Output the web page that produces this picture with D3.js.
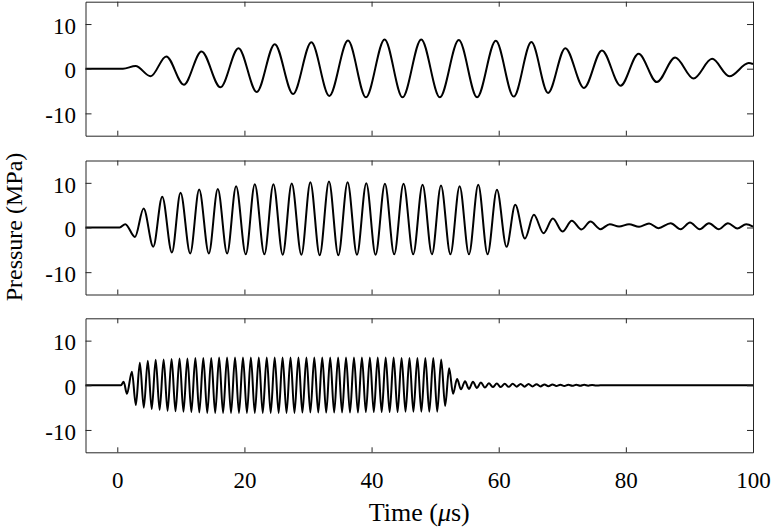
<!DOCTYPE html>
<html>
<head>
<meta charset="utf-8">
<script src="https://cdn.jsdelivr.net/npm/d3@7"></script>
<style>
  body { margin: 0; background: #fff; }
  svg { display: block; font-family: "Liberation Serif", "Times New Roman", serif; }
</style>
</head>
<body>
<script>

// tick values
var timeTicks = [0, 20, 40, 60, 80, 100];
var pressureTicks = [-10, 0, 10];

// panel 1 - peaks and troughs (time in us, pressure in MPa)
var p1Time = [-5, 0.89, 2.88, 5.24, 7.70, 10.47, 13.25, 16.23, 19.06, 21.94, 24.77, 27.65, 30.53,
  33.35, 36.29, 39.11, 42.05, 44.87, 47.81, 50.74, 53.72, 56.60, 59.54, 62.36, 65.14, 67.76,
  70.48, 73.41, 76.24, 79.17, 82.00, 84.88, 87.76, 90.64, 93.57, 96.29, 99.33, 100];
var p1Pressure = [0, 0, 0.6, -1.7, 2.75, -3.57, 3.87, -4.17, 4.6, -5.2, 5.5, -5.65, 5.9,
  -6.1, 6.3, -6.4, 6.55, -6.4, 6.55, -6.4, 6.4, -6.4, 6.25, -6.25, 5.95, -5.43,
  4.6, -4.3, 4.1, -3.8, 3.35, -3.0, 2.5, -2.2, 2.2, -1.7, 1.25, 1.05];

// panel 2
var p2Time = [-5, 0.37, 1.26, 2.78, 4.14, 5.66, 7.07, 8.59, 9.95, 11.47, 12.88, 14.40, 15.81,
  17.28, 18.69, 20.21, 21.63, 23.14, 24.56, 26.02, 27.44, 28.96, 30.37, 31.84, 33.30, 34.77,
  36.23, 37.70, 39.17, 40.63, 42.10, 43.56, 45.03, 46.55, 48.02, 49.50, 50.92, 52.40, 53.85,
  55.32, 56.78, 58.25, 59.72, 61.23, 62.60, 64.12, 65.53, 67.05, 68.51, 70.03, 71.50, 73.02,
  74.43, 76.00, 77.47, 78.93, 80.50, 82.07, 83.65, 85.11, 87.05, 88.62, 90.09, 91.61, 93.07,
  94.64, 96.06, 97.52, 98.93, 100];
var p2Pressure = [0, 0, 0.75, -2.1, 4.25, -4.3, 6.9, -5.6, 7.8, -5.8, 8.5, -5.8, 8.6,
  -5.8, 9.25, -6.0, 9.7, -6.0, 9.7, -6.1, 9.85, -6.1, 10.15, -6.2, 10.3, -6.2,
  10.15, -6.1, 9.9, -6.1, 9.8, -6.0, 9.8, -6.0, 9.55, -6.0, 9.4, -6.0, 9.25,
  -6.0, 9.55, -6.0, 8.43, -4.33, 5.07, -2.46, 2.84, -1.27, 2.01, -0.9, 1.49, -0.45,
  1.34, -0.37, 0.75, 0.22, 0.75, 0.15, 0.9, -0.15, 0.97, -0.37, 1.12, -0.37, 0.97,
  -0.37, 0.97, -0.22, 0.75, 0.22];

// panel 3
var p3Time = [-5, 0.58, 1.00, 1.52, 2.30, 2.92, 3.55, 4.17, 4.80, 5.42, 6.04, 6.66, 7.29, 7.91,
  8.54, 9.16, 9.79, 10.41, 11.03, 11.65, 12.28, 12.90, 13.53, 14.15, 14.78, 15.40, 16.02, 16.64,
  17.27, 17.89, 18.52, 19.14, 19.77, 20.39, 21.01, 21.63, 22.26, 22.88, 23.51, 24.13, 24.76,
  25.38, 26.00, 26.62, 27.25, 27.87, 28.50, 29.12, 29.75, 30.37, 30.99, 31.61, 32.24, 32.86,
  33.49, 34.11, 34.74, 35.36, 35.98, 36.60, 37.23, 37.85, 38.48, 39.10, 39.73, 40.35, 40.97,
  41.59, 42.22, 42.84, 43.47, 44.09, 44.72, 45.34, 45.96, 46.58, 47.21, 47.83, 48.46, 49.08,
  49.71, 50.33, 50.95, 51.57, 52.20, 52.82, 53.45, 54.07, 54.70, 55.32, 55.95, 56.57, 57.20,
  57.82, 58.45, 59.07, 59.70, 60.32, 60.95, 61.57, 62.20, 62.82, 63.45, 64.07, 64.70, 65.32,
  65.95, 66.57, 67.20, 67.82, 68.45, 69.07, 69.70, 70.32, 70.95, 71.57, 72.20, 72.82, 73.45,
  74.07, 74.70, 75.32, 76.0, 100];
var p3Pressure = [0, 0, 0.8, -1.9, 3.05, -4.4, 5.05, -5.0, 5.5, -5.3, 5.7, -5.5, 5.8, -5.7,
  5.9, -5.8, 6.0, -5.9, 6.0, -6.0, 6.1, -6.1, 6.1, -6.2, 6.1, -6.2, 6.2, -6.2,
  6.2, -6.2, 6.2, -6.2, 6.2, -6.2, 6.2, -6.2, 6.2, -6.2, 6.2, -6.2, 6.2,
  -6.2, 6.2, -6.2, 6.2, -6.2, 6.2, -6.1, 6.2, -6.1, 6.2, -6.1, 6.2, -6.1,
  6.2, -6.1, 6.2, -6.1, 6.2, -6.1, 6.2, -6.1, 6.2, -6.0, 6.2, -6.0, 6.2,
  -6.0, 6.2, -6.0, 6.2, -6.0, 6.1, -5.9, 6.1, -5.9, 6.1, -5.9, 6.1, -5.9,
  6.1, -5.9, 5.8, -4.6, 3.8, -1.9, 1.4, -0.9, 0.9, -0.8, 0.8, -0.6, 0.6,
  -0.5, 0.45, -0.4, 0.4, -0.4, 0.35, -0.35, 0.35, -0.3, 0.3, -0.3, 0.3, -0.25,
  0.25, -0.25, 0.2, -0.2, 0.2, -0.15, 0.15, -0.15, 0.12, -0.12, 0.1, -0.1, 0.1,
  -0.08, 0.08, -0.06, 0, 0];

var panels = [
  { time: p1Time, pressure: p1Pressure },
  { time: p2Time, pressure: p2Pressure },
  { time: p3Time, pressure: p3Pressure }
];

var svgWidth = 772;
var svgHeight = 529;

var plotLeft = 85.5;
var plotRight = 753;
var panelTops = [1.7, 160.5, 318.3];
var panelHeight = 134;

var axisColor = "#262626";
var serif = "Liberation Serif, Times New Roman, serif";

var svg = d3.select("body")
  .append("svg")
  .attr("width", svgWidth)
  .attr("height", svgHeight);

var xScale = d3.scaleLinear()
  .domain([-5, 100])
  .range([plotLeft, plotRight]);

var line = d3.line()
  .x(d => xScale(d[0]))
  .curve(d3.curveMonotoneX);

panels.forEach(function(p, i) {
  var top = panelTops[i];
  var yScale = d3.scaleLinear()
    .domain([-15, 15])
    .range([top + panelHeight, top]);

  var g = svg.append("g");

  // the waveform
  var pts = p.time.map((t, k) => [t, p.pressure[k]]);
  g.append("path")
    .datum(pts)
    .attr("fill", "none")
    .attr("stroke", "#000")
    .attr("stroke-width", 2)
    .attr("stroke-linejoin", "round")
    .attr("d", line.y(d => yScale(d[1])));

  // box with inward ticks on all four sides
  var leftAxis = d3.axisLeft(yScale).tickValues(pressureTicks)
    .tickSizeInner(-6).tickSizeOuter(0).tickPadding(9.5)
    .tickFormat(d => String(d));
  var rightAxis = d3.axisRight(yScale).tickValues(pressureTicks)
    .tickSizeInner(-6).tickSizeOuter(0).tickFormat("");
  var topAxis = d3.axisTop(xScale).tickValues(timeTicks)
    .tickSizeInner(-5).tickSizeOuter(0).tickFormat("");
  var bottomAxis = d3.axisBottom(xScale).tickValues(timeTicks)
    .tickSizeInner(-5).tickSizeOuter(0).tickPadding(19)
    .tickFormat(i == 2 ? (d => String(d)) : "");

  var axes = [
    g.append("g").attr("transform", `translate(${plotLeft},0)`).call(leftAxis),
    g.append("g").attr("transform", `translate(${plotRight},0)`).call(rightAxis),
    g.append("g").attr("transform", `translate(0,${top})`).call(topAxis),
    g.append("g").attr("transform", `translate(0,${top + panelHeight})`).call(bottomAxis)
  ];

  axes.forEach(function(a) {
    a.attr("font-family", serif).attr("font-size", 23);
    a.select(".domain").attr("stroke", axisColor).attr("stroke-width", 1);
    a.selectAll(".tick line").attr("stroke", axisColor).attr("stroke-width", 1);
    a.selectAll(".tick text").attr("fill", "#000");
  });
  axes[0].selectAll(".tick text").attr("dy", "0.4em");
  axes[3].selectAll(".tick text").attr("dy", "0.71em");
});

// axis titles
var xLabel = svg.append("text")
  .attr("x", (plotLeft + plotRight) / 2)
  .attr("y", 521)
  .attr("text-anchor", "middle")
  .attr("font-family", serif)
  .attr("font-size", 26)
  .attr("fill", "#000");
xLabel.append("tspan").text("Time (");
xLabel.append("tspan").style("font-style", "italic").text("\u03bc");
xLabel.append("tspan").text("s)");

svg.append("text")
  .attr("transform", `translate(22,${(panelTops[0] + panelTops[2] + panelHeight) / 2}) rotate(-90)`)
  .attr("text-anchor", "middle")
  .attr("font-family", serif)
  .attr("font-size", 24)
  .attr("fill", "#000")
  .text("Pressure (MPa)");

</script>
</body>
</html>
